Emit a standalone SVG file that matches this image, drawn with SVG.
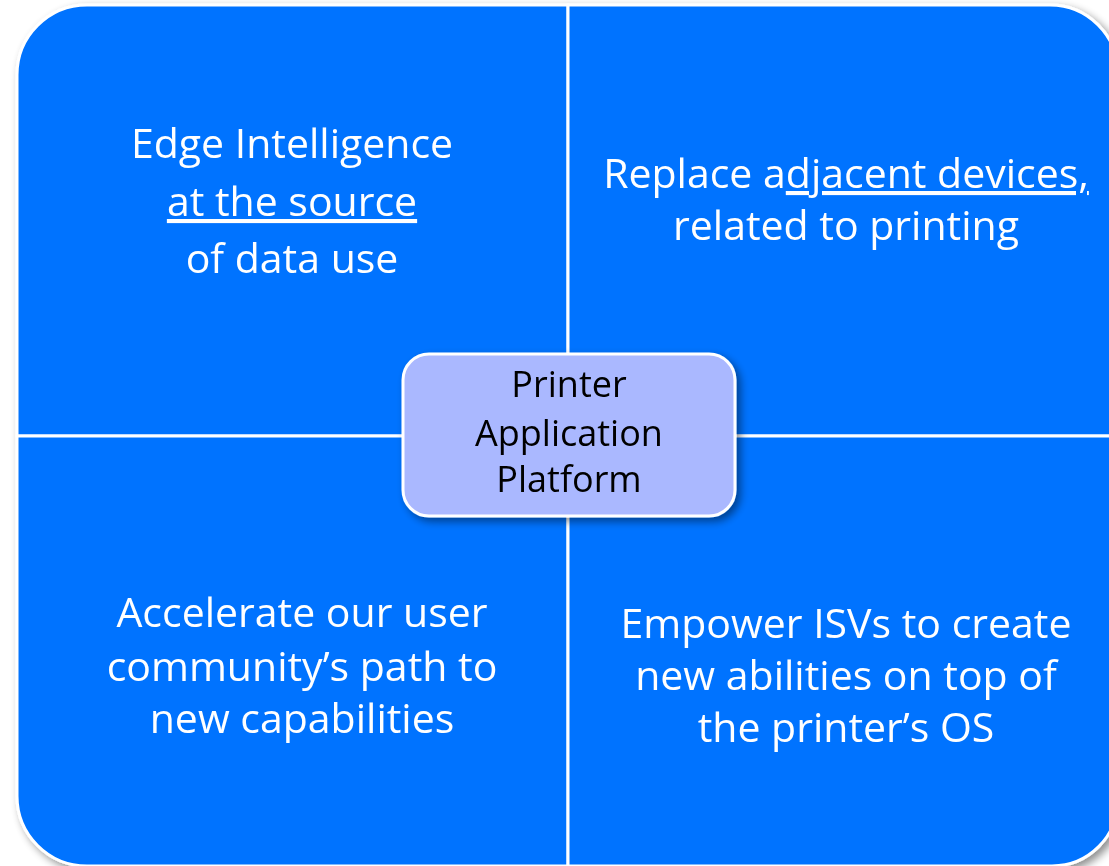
<svg xmlns="http://www.w3.org/2000/svg" width="1109" height="866" viewBox="0 0 1109 866">
<defs>
<filter id="sh" x="-10%" y="-10%" width="130%" height="130%">
<feGaussianBlur in="SourceAlpha" stdDeviation="4"/>
<feOffset dx="4" dy="4" result="b"/>
<feComponentTransfer><feFuncA type="linear" slope="0.45"/></feComponentTransfer>
<feMerge><feMergeNode/><feMergeNode in="SourceGraphic"/></feMerge>
</filter>
<style>
.q{fill:#0073FF;stroke:#ffffff;stroke-width:3}
.t{fill:#ffffff;font-family:"Open Sans","Noto Sans",sans-serif;font-size:41px;text-anchor:middle}
.c{fill:#000000;font-family:"Open Sans","Noto Sans",sans-serif;font-size:36px;text-anchor:middle}
</style>
</defs>
<rect width="1109" height="866" fill="#ffffff"/>
<g id="quadrants" filter="url(#sh)">
<g id="q-tl"><path class="q" d="M17,436 V75 A70,70 0 0 1 87,5 H568 V436 Z"/>
<text class="t"><tspan x="292" y="158">Edge Intelligence</tspan><tspan x="292" y="216" text-decoration="underline">at the source</tspan><tspan x="292" y="273">of data use</tspan></text></g>
<g id="q-tr"><path class="q" d="M568,5 H1050 A68,68 0 0 1 1118,73 V436 H568 Z"/>
<text class="t"><tspan x="846" y="188">Replace a<tspan text-decoration="underline">djacent devices,</tspan></tspan><tspan x="846" y="240">related to printing</tspan></text></g>
<g id="q-bl"><path class="q" d="M17,436 H568 V866 H87 A70,70 0 0 1 17,796 Z"/>
<text class="t"><tspan x="302" y="627">Accelerate our user</tspan><tspan x="302" y="681">community’s path to</tspan><tspan x="302" y="733">new capabilities</tspan></text></g>
<g id="q-br"><path class="q" d="M568,436 H1118 V800 A66,66 0 0 1 1052,866 H568 Z"/>
<text class="t"><tspan x="846" y="638">Empower ISVs to create</tspan><tspan x="846" y="690">new abilities on top of</tspan><tspan x="846" y="742">the printer’s OS</tspan></text></g>
</g>
<g id="connectors"/>
<g id="center" filter="url(#sh)">
<rect x="403" y="354" width="332" height="162" rx="26" fill="#AAB8FF" stroke="#ffffff" stroke-width="3"/>
<text class="c"><tspan x="569" y="397">Printer</tspan><tspan x="569" y="446">Application</tspan><tspan x="569" y="492">Platform</tspan></text>
</g>
</svg>
